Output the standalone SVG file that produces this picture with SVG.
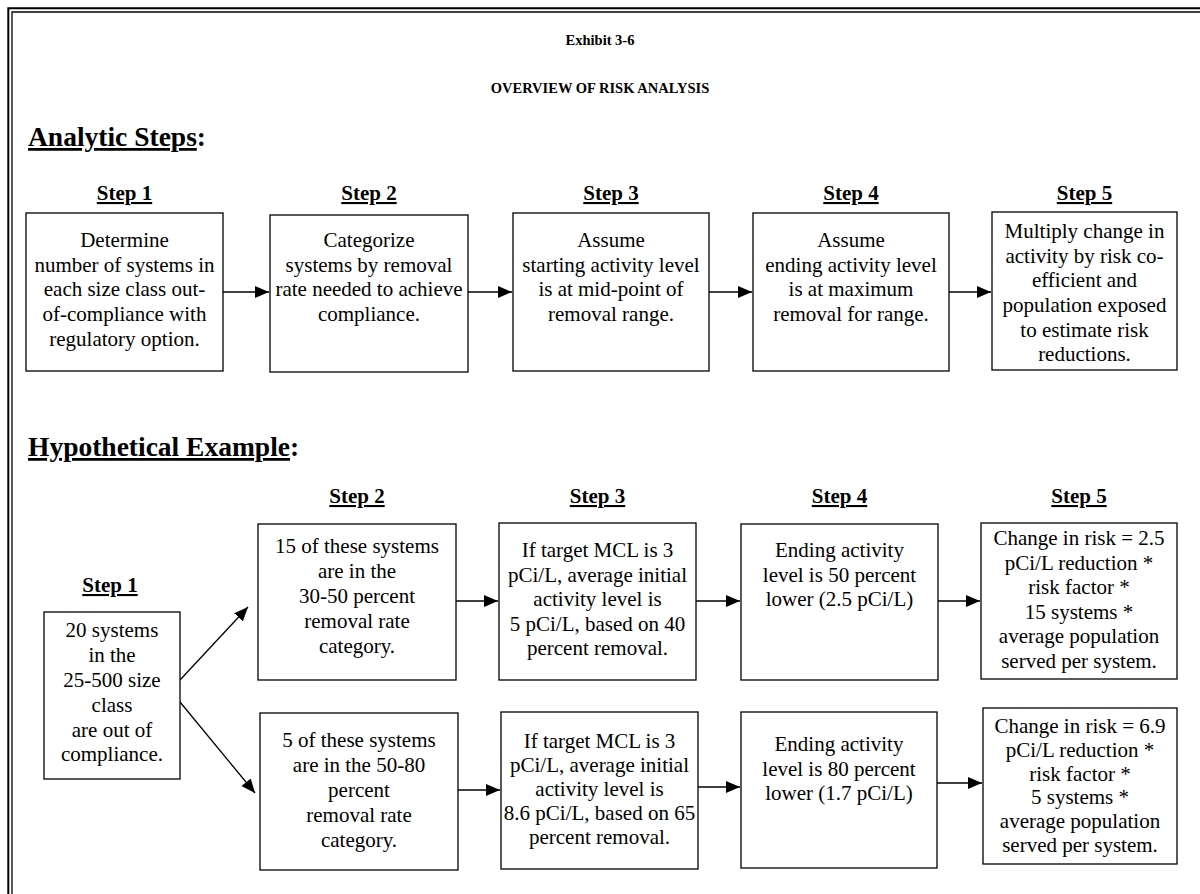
<svg xmlns="http://www.w3.org/2000/svg" width="1200" height="894" viewBox="0 0 1200 894">
<style>
.t{font-family:"Liberation Serif","Times New Roman",serif;font-size:21px;text-anchor:middle;fill:#000}
.s{font-family:"Liberation Serif","Times New Roman",serif;font-size:21px;font-weight:bold;text-anchor:middle;text-decoration:underline;fill:#000}
.h{font-family:"Liberation Serif","Times New Roman",serif;font-size:27.5px;font-weight:bold;fill:#000}
.ti{font-family:"Liberation Serif","Times New Roman",serif;font-size:14.5px;font-weight:bold;text-anchor:middle;fill:#000}
.box{fill:#fff;stroke:#000;stroke-width:1.3}
.c{stroke:#000;stroke-width:1.3;fill:none;marker-end:url(#ah)}
</style>
<defs>
<marker id="ah" markerUnits="userSpaceOnUse" markerWidth="16" markerHeight="14" refX="14" refY="7" orient="auto" viewBox="0 0 16 14">
<path d="M0,1 L14,7 L0,13 z" fill="#000"/>
</marker>
</defs>
<rect width="1200" height="894" fill="#fff"/>
<g id="frame" fill="none" stroke="#000">
<path d="M8.3,894 V8.3 H1200" stroke-width="2"/>
<path d="M12,894 V12 H1200" stroke-width="1.3"/>
</g>
<g id="titles">
<text class="ti" x="600" y="45">Exhibit 3-6</text>
<text class="ti" x="600" y="93">OVERVIEW OF RISK ANALYSIS</text>
<text class="h" x="28" y="146"><tspan text-decoration="underline">Analytic Steps</tspan>:</text>
<text class="h" x="28" y="456"><tspan text-decoration="underline">Hypothetical Example</tspan>:</text>
</g>
<g id="connectors">
<line class="c" x1="223" y1="292" x2="269" y2="292"/>
<line class="c" x1="468" y1="292" x2="512" y2="292"/>
<line class="c" x1="709" y1="292" x2="752" y2="292"/>
<line class="c" x1="949" y1="292" x2="991" y2="292"/>
<line class="c" x1="180" y1="680" x2="248" y2="607"/>
<line class="c" x1="180" y1="702" x2="255" y2="793"/>
<line class="c" x1="456" y1="601" x2="498" y2="601"/>
<line class="c" x1="696" y1="601" x2="740" y2="601"/>
<line class="c" x1="938" y1="601" x2="980" y2="601"/>
<line class="c" x1="458" y1="790" x2="500" y2="790"/>
<line class="c" x1="698" y1="787" x2="740" y2="787"/>
<line class="c" x1="937" y1="783" x2="982" y2="783"/>
</g>
<g id="a1">
<text class="s" x="124.5" y="200">Step 1</text>
<rect class="box" x="26" y="213" width="197" height="158"/>
<text class="t"><tspan x="124.5" y="247">Determine</tspan><tspan x="124.5" y="272">number of systems in</tspan><tspan x="124.5" y="296">each size class out-</tspan><tspan x="124.5" y="321">of-compliance with</tspan><tspan x="124.5" y="346">regulatory option.</tspan></text>
</g>
<g id="a2">
<text class="s" x="369" y="200">Step 2</text>
<rect class="box" x="270" y="215" width="198" height="157"/>
<text class="t"><tspan x="369" y="247">Categorize</tspan><tspan x="369" y="272">systems by removal</tspan><tspan x="369" y="296">rate needed to achieve</tspan><tspan x="369" y="321">compliance.</tspan></text>
</g>
<g id="a3">
<text class="s" x="611" y="200">Step 3</text>
<rect class="box" x="513" y="213" width="196" height="158"/>
<text class="t"><tspan x="611" y="247">Assume</tspan><tspan x="611" y="272">starting activity level</tspan><tspan x="611" y="296">is at mid-point of</tspan><tspan x="611" y="321">removal range.</tspan></text>
</g>
<g id="a4">
<text class="s" x="851" y="200">Step 4</text>
<rect class="box" x="753" y="213" width="196" height="158"/>
<text class="t"><tspan x="851" y="247">Assume</tspan><tspan x="851" y="272">ending activity level</tspan><tspan x="851" y="296">is at maximum</tspan><tspan x="851" y="321">removal for range.</tspan></text>
</g>
<g id="a5">
<text class="s" x="1084.5" y="200">Step 5</text>
<rect class="box" x="992" y="212" width="185" height="158"/>
<text class="t"><tspan x="1084.5" y="238">Multiply change in</tspan><tspan x="1084.5" y="263">activity by risk co-</tspan><tspan x="1084.5" y="287">efficient and</tspan><tspan x="1084.5" y="312">population exposed</tspan><tspan x="1084.5" y="337">to estimate risk</tspan><tspan x="1084.5" y="361">reductions.</tspan></text>
</g>
<g id="e1">
<text class="s" x="110" y="592">Step 1</text>
<rect class="box" x="44" y="612" width="136" height="167"/>
<text class="t"><tspan x="112" y="637">20 systems</tspan><tspan x="112" y="662">in the</tspan><tspan x="112" y="687">25-500 size</tspan><tspan x="112" y="712">class</tspan><tspan x="112" y="737">are out of</tspan><tspan x="112" y="761">compliance.</tspan></text>
</g>
<g id="e2a">
<text class="s" x="357" y="503">Step 2</text>
<rect class="box" x="258" y="524" width="198" height="156"/>
<text class="t"><tspan x="357" y="553">15 of these systems</tspan><tspan x="357" y="578">are in the</tspan><tspan x="357" y="603">30-50 percent</tspan><tspan x="357" y="628">removal rate</tspan><tspan x="357" y="653">category.</tspan></text>
</g>
<g id="e3a">
<text class="s" x="597.5" y="503">Step 3</text>
<rect class="box" x="499" y="523" width="197" height="157"/>
<text class="t"><tspan x="597.5" y="557">If target MCL is 3</tspan><tspan x="597.5" y="582">pCi/L, average initial</tspan><tspan x="597.5" y="606">activity level is</tspan><tspan x="597.5" y="631">5 pCi/L, based on 40</tspan><tspan x="597.5" y="655">percent removal.</tspan></text>
</g>
<g id="e4a">
<text class="s" x="839.5" y="503">Step 4</text>
<rect class="box" x="741" y="524" width="197" height="156"/>
<text class="t"><tspan x="839.5" y="557">Ending activity</tspan><tspan x="839.5" y="582">level is 50 percent</tspan><tspan x="839.5" y="606">lower (2.5 pCi/L)</tspan></text>
</g>
<g id="e5a">
<text class="s" x="1079" y="503">Step 5</text>
<rect class="box" x="981" y="523" width="196" height="156"/>
<text class="t"><tspan x="1079" y="545">Change in risk = 2.5</tspan><tspan x="1079" y="570">pCi/L reduction *</tspan><tspan x="1079" y="594">risk factor *</tspan><tspan x="1079" y="619">15 systems *</tspan><tspan x="1079" y="643">average population</tspan><tspan x="1079" y="668">served per system.</tspan></text>
</g>
<g id="e2b">
<rect class="box" x="260" y="713" width="198" height="157"/>
<text class="t"><tspan x="359" y="747">5 of these systems</tspan><tspan x="359" y="772">are in the 50-80</tspan><tspan x="359" y="797">percent</tspan><tspan x="359" y="822">removal rate</tspan><tspan x="359" y="847">category.</tspan></text>
</g>
<g id="e3b">
<rect class="box" x="501" y="712" width="197" height="157"/>
<text class="t"><tspan x="599.5" y="748">If target MCL is 3</tspan><tspan x="599.5" y="772">pCi/L, average initial</tspan><tspan x="599.5" y="796">activity level is</tspan><tspan x="599.5" y="820">8.6 pCi/L, based on 65</tspan><tspan x="599.5" y="844">percent removal.</tspan></text>
</g>
<g id="e4b">
<rect class="box" x="741" y="712" width="196" height="156"/>
<text class="t"><tspan x="839" y="751">Ending activity</tspan><tspan x="839" y="776">level is 80 percent</tspan><tspan x="839" y="800">lower (1.7 pCi/L)</tspan></text>
</g>
<g id="e5b">
<rect class="box" x="983" y="708" width="194" height="156"/>
<text class="t"><tspan x="1080" y="733">Change in risk = 6.9</tspan><tspan x="1080" y="757">pCi/L reduction *</tspan><tspan x="1080" y="781">risk factor *</tspan><tspan x="1080" y="804">5 systems *</tspan><tspan x="1080" y="828">average population</tspan><tspan x="1080" y="852">served per system.</tspan></text>
</g>
</svg>
